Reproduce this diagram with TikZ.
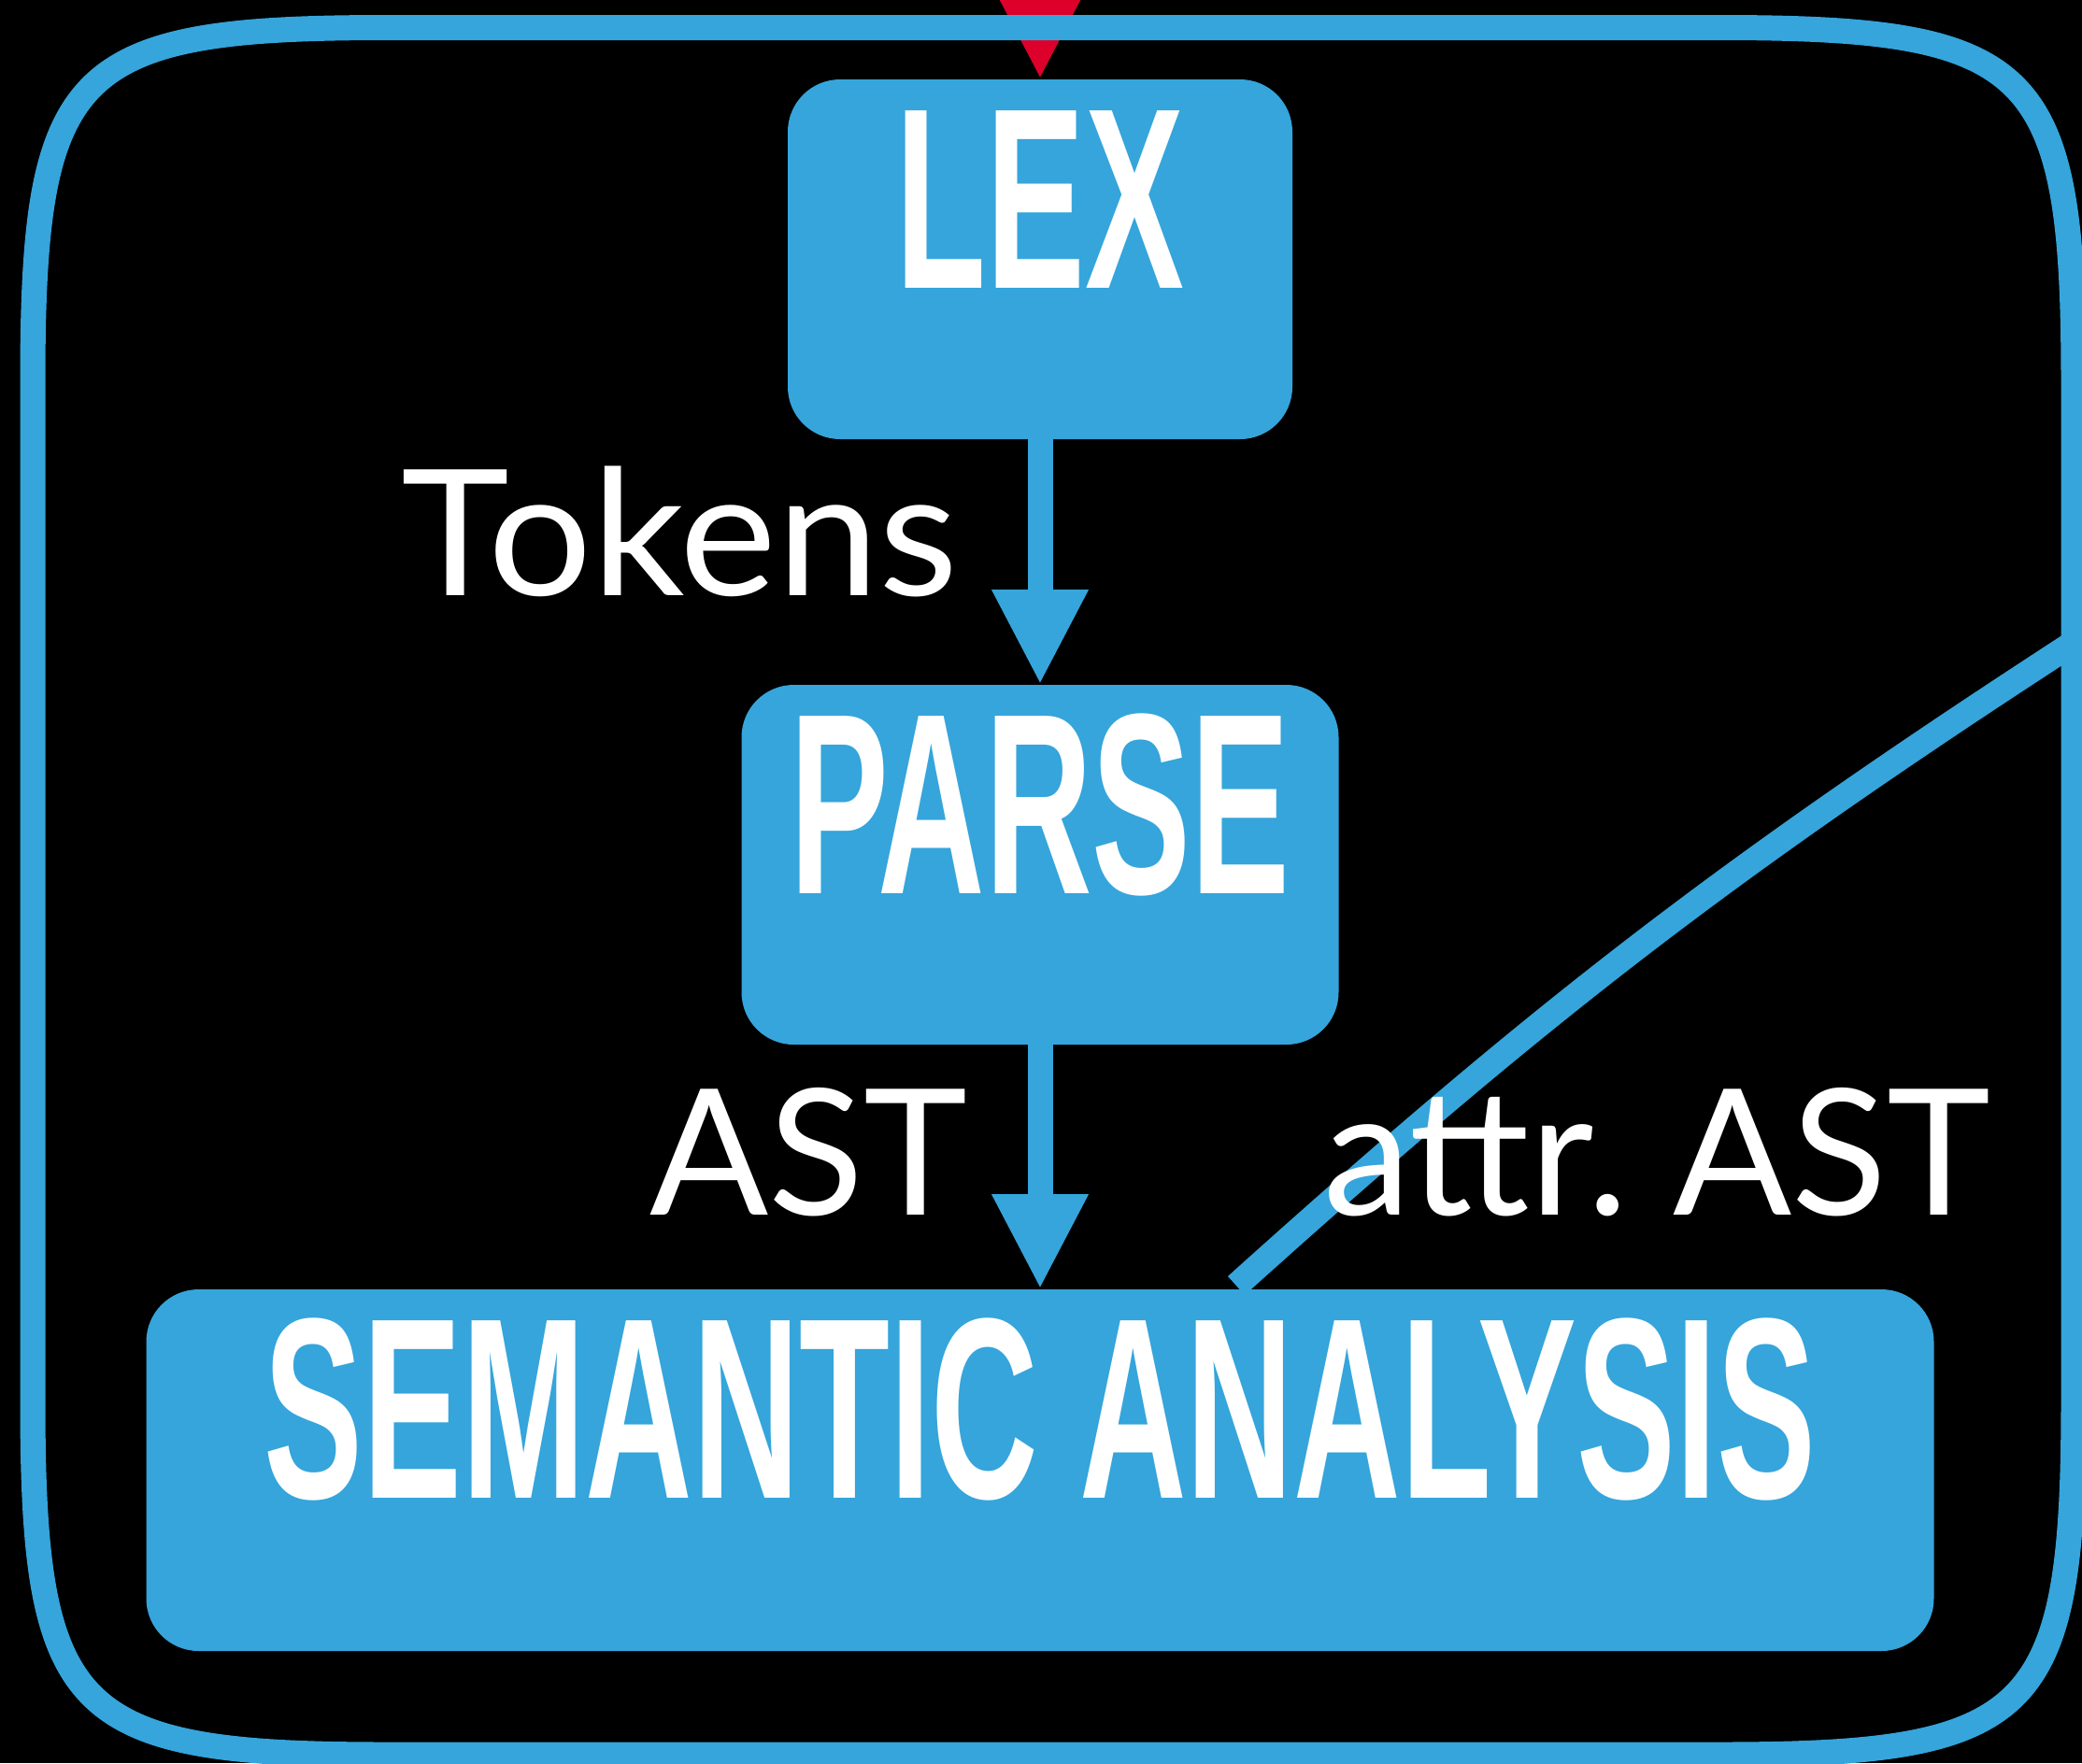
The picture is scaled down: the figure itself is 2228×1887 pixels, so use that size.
\documentclass[tikz,border=0pt]{standalone}
\usepackage{fontspec}
\newfontfamily\stagefont{Liberation Sans}
\newfontfamily\datafont{Lato}
\usetikzlibrary{positioning, arrows.meta}

\definecolor{pipeblue}{RGB}{53,165,219}
\definecolor{pipered}{RGB}{221,0,43}

\tikzset{
  stage/.style={fill=pipeblue, rounded corners=28pt, inner sep=0pt, outer sep=0pt, minimum height=192.5pt},
  stagename/.style={text=white, anchor=base, xscale=0.575, inner sep=0pt, font=\stagefont\bfseries\fontsize{138}{140}\selectfont},
  datalabel/.style={text=white, inner sep=0pt, font=\datafont\fontsize{94}{100}\selectfont},
  flow/.style={pipeblue, line width=13.5pt, -{Triangle[length=51pt, width=48pt]}},
  loopline/.style={pipeblue, line width=13.5pt},
}

\begin{document}
\begin{tikzpicture}[x=0.5pt, y=-0.5pt, node distance=131.5pt]
  \fill[black] (0,0) rectangle (2228,1887);
  \useasboundingbox (0,0) rectangle (2228,1887);
  \clip (0,0) rectangle (2228,1887);

  % stages of the front end
  \node[stage, minimum width=270pt] (lex) at (1113,277.5) {};
  \node[stage, minimum width=319.5pt, below=of lex] (parse) {};
  \node[stage, minimum width=956.5pt, minimum height=193.5pt, below=131pt of parse] (sema) {};

  \node[stagename] (lexname) at ([yshift=81pt]lex.south) {LEX};
  \node[stagename] (parsename) at ([yshift=81pt]parse.south) {PARSE};
  \node[stagename] (semaname) at ([yshift=82pt]sema.south) {SEMANTIC ANALYSIS};

  % source text comes in from above
  \coordinate (entry) at (1113,-200);
  \draw[flow, pipered] (entry) -- (lex);

  % feedback loop round everything (soft squircle corners)
  \draw[loopline] (415,29.5) -- (1839,29.5)
    .. controls (2177,29.5) and (2219,71.5) .. (2219,409.5) -- (2219,1498)
    .. controls (2219,1836) and (2177,1878) .. (1839,1878) -- (415,1878)
    .. controls (77,1878) and (35,1836) .. (35,1498) -- (35,409.5)
    .. controls (35,71.5) and (77,29.5) .. cycle;
  \coordinate (back) at (2219,688);
  \draw[loopline] ([xshift=105pt, yshift=2pt]sema.north) to[out=42, in=213] (back);

  \draw[flow] (lex) -- node[datalabel, xscale=1.045, pos=0.635, anchor=base east, xshift=-35pt] (tokens) {Tokens} (parse);
  \draw[flow] (parse) -- node[datalabel, pos=0.695, anchor=base east, xshift=-32pt] (ast) {AST}
    node[datalabel, pos=0.695, anchor=base west, xshift=145pt] (attrast) {attr.\ AST} (sema);
\end{tikzpicture}
\end{document}
